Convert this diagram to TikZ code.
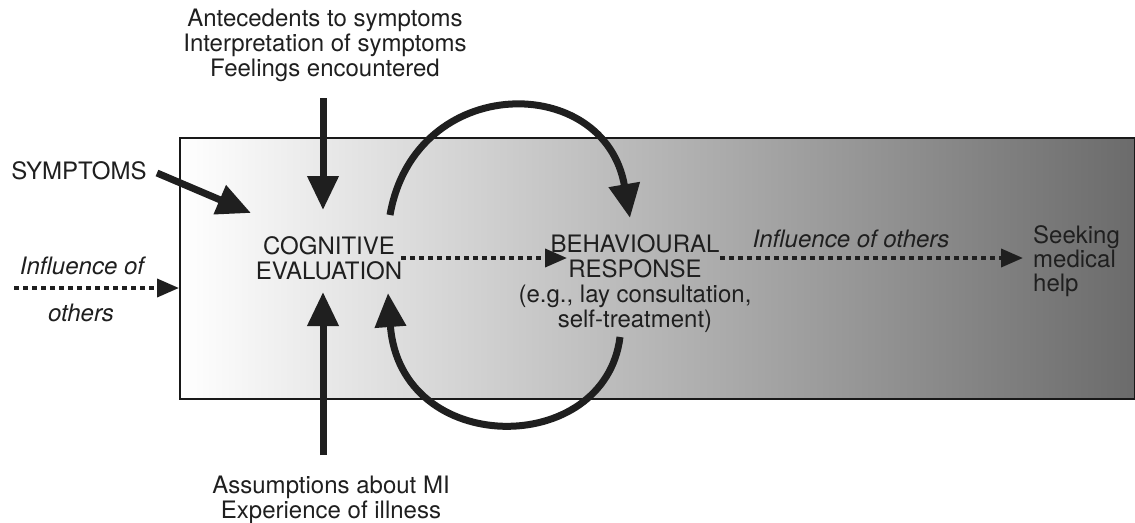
\documentclass[tikz,border=0pt]{standalone}
\usepackage{fontspec}
\setmainfont{TeX Gyre Heros}
\usetikzlibrary{arrows.meta}
\begin{document}
\begin{tikzpicture}[x=1pt,y=-1pt,
  lbl/.style={font=\fontsize{24}{25}\selectfont, align=center, inner sep=0pt, text=black!88},
  itlbl/.style={lbl, font=\fontsize{24}{25}\selectfont\itshape},
  bigarrow/.style={line width=7pt, draw=black!88, -{Triangle[length=34pt,width=30pt]}},
  dotarrow/.style={line width=3.8pt, draw=black!88, dash pattern=on 5pt off 4pt, -{Triangle[length=22pt,width=18pt]}}]
\useasboundingbox (0,0) rectangle (1135,522);
% main shaded box
\node[draw=black!90, line width=2pt, minimum width=955pt, minimum height=261pt, anchor=north west,
      left color=white, right color=black!58, inner sep=0pt] (box) at (179,137) {};
% texts
\node[lbl] (top) at (325,45) {Antecedents to symptoms\\Interpretation of symptoms\\Feelings encountered};
\node[lbl] (bot) at (331,500) {Assumptions about MI\\Experience of illness};
\node[lbl] (symp) at (79,171) {SYMPTOMS};
\node[itlbl] (infl1) at (82,266) {Influence of};
\node[itlbl] (infl2) at (81,313) {others};
\node[lbl] (cog) at (329,258) {COGNITIVE\\EVALUATION};
\node[lbl] (beh) at (635,284) {BEHAVIOURAL\\RESPONSE\\(e.g., lay consultation,\\self-treatment)};
\node[itlbl] (infl3) at (851,239) {Influence of others};
\node[lbl, align=left, anchor=west, font=\fontsize{24}{24}\selectfont] (seek) at (1033,261) {Seeking\\medical\\help};
% endpoints
\coordinate (topS) at (323,98);
\coordinate (topE) at (323,210);
\coordinate (botS) at (323,455);
\coordinate (botE) at (323,292);
\coordinate (sympS) at (157,173);
\coordinate (sympE) at (251,213);
\coordinate (inflS) at (14,288);
\coordinate (inflE) at (179,288);
\coordinate (cogR) at (401,258);
\coordinate (behL) at (567,258);
\coordinate (behR) at (720,258);
\coordinate (seekL) at (1023,258);
\coordinate (upS) at (390,215);
\coordinate (upE) at (630,218);
\coordinate (loS) at (620,337);
\coordinate (loE) at (388,293);
% connectors
\draw[bigarrow] (topS) -- (topE);
\draw[bigarrow] (botS) -- (botE);
\draw[bigarrow] (sympS) -- (sympE);
\draw[bigarrow] (upS) .. controls (415,72) and (605,72) .. (upE);
\draw[bigarrow] (loS) .. controls (605,458) and (400,458) .. (loE);
\draw[dotarrow] (inflS) -- (inflE);
\draw[dotarrow] (cogR) -- (behL);
\draw[dotarrow] (behR) -- (seekL);
\end{tikzpicture}
\end{document}
